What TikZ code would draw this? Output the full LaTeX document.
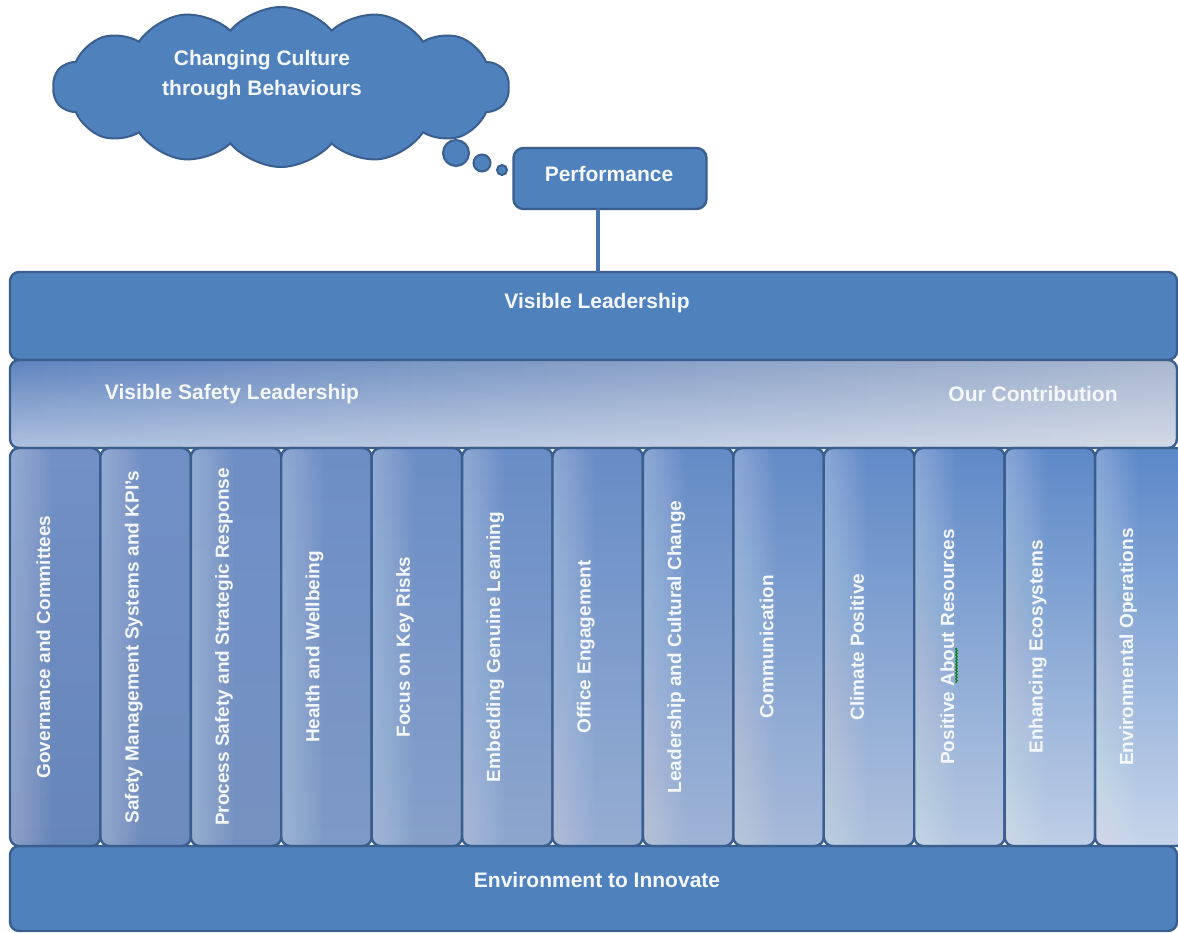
\documentclass[tikz,border=0pt]{standalone}
\usepackage{fontspec}
\setmainfont{Liberation Sans}
\usetikzlibrary{shapes.symbols,fadings,decorations.pathmorphing}
\definecolor{barblue}{HTML}{4F81BD}
\definecolor{edgeblue}{HTML}{3A5F8F}
\definecolor{linkblue}{HTML}{4673AE}
\definecolor{labelwhite}{HTML}{F4F7FC}
\definecolor{vslleft}{HTML}{5F84BF}
\definecolor{vslright}{HTML}{A9B7CF}
\definecolor{coltopL}{HTML}{7290C4}
\definecolor{coltopR}{HTML}{5B88C8}
\definecolor{colbotL}{HTML}{6685B9}
\definecolor{colbotR}{HTML}{C6D5EA}
\tikzset{
  panel/.style={draw=edgeblue, line width=2.4pt, rounded corners=9pt,
    inner sep=0pt, outer sep=0pt},
  bar/.style={panel, fill=barblue, minimum width=1167pt},
  headtext/.style={text=labelwhite, inner sep=0pt,
    font=\fontsize{21}{30}\selectfont\bfseries},
  coltext/.style={text=labelwhite, inner sep=0pt, rotate=90,
    font=\fontsize{19}{22}\selectfont\bfseries},
  bubble/.style={circle, fill=barblue, draw=edgeblue, line width=2pt,
    inner sep=0pt},
  % soft light band along the left edge of a pillar (nested washes)
  edgeglow/.style={path picture={
    \foreach \k in {1,...,14}{
      \fill[white, fill opacity=0.022]
        (path picture bounding box.north west) rectangle
        ([xshift=\k*3pt]path picture bounding box.south west);
    }}},
}
\begin{document}
\begin{tikzpicture}[x=1pt,y=-1pt]
\useasboundingbox[fill=white] (0,0) rectangle (1178,932);

% thought cloud with its trailing bubbles
\node[cloud, cloud puffs=14, cloud puff arc=100, cloud ignores aspect,
  minimum width=456pt, minimum height=160pt, fill=barblue, draw=edgeblue,
  line width=2pt] (cloud) at (281,87) {};
\node[headtext, align=center] (cloudtext) at (262,75)
  {Changing Culture\\through Behaviours};
\node[bubble, minimum size=26pt] (b1) at (456,153) {};
\node[bubble, minimum size=17pt] (b2) at (482,163) {};
\node[bubble, minimum size=10pt] (b3) at (502,170) {};

% performance box
\node[panel, fill=barblue, rounded corners=10pt, minimum width=193pt,
  minimum height=61pt] (perf) at (610,178.5) {};
\node[headtext] (perftext) at (609,174) {Performance};

% horizontal bars
\node[bar, minimum height=88pt] (vl) at (593.5,316) {};
\node[headtext] (vltext) at (597,303) {Visible Leadership};

\node[panel, minimum width=1167pt, minimum height=88pt,
  left color=vslleft, right color=vslright,
  path picture={\fill[white, path fading=north, fill opacity=0.5]
    (path picture bounding box.north west) rectangle
    (path picture bounding box.south east);}] (vsl) at (593.5,404) {};
\node[headtext] (vsltext) at (232,394) {Visible Safety Leadership};
\node[headtext] (contrib) at (1033,394) {Our Contribution};

\node[bar, minimum height=85pt] (ei) at (593.5,888.5) {};
\node[headtext] (eitext) at (597,880) {Environment to Innovate};

% connector from the performance box down to the leadership bar
\coordinate (tap) at (598,0);
\draw[linkblue, line width=4.5pt] (perf.south -| tap) -- (vl.north -| tap);

% the thirteen pillars
\foreach \i/\txt in {
  0/{Governance and Committees},
  1/{Safety Management Systems and KPI's},
  2/{Process Safety and Strategic Response},
  3/{Health and Wellbeing},
  4/{Focus on Key Risks},
  5/{Embedding Genuine Learning},
  6/{Office Engagement},
  7/{Leadership and Cultural Change},
  8/{Communication},
  9/{Climate Positive},
  10/{Positive About Resources},
  11/{Enhancing Ecosystems},
  12/{Environmental Operations}} {
  \pgfmathsetmacro\xc{10+90.42*\i+45.21}
  \pgfmathtruncatemacro\p{\i*100/12}
  \node[panel, minimum width=90.42pt, minimum height=398pt,
    top color=coltopR!\p!coltopL, bottom color=colbotR!\p!colbotL,
    edgeglow] (col\i) at (\xc,647) {};
  \node[coltext] (lab\i) at (\xc-12,647) {\txt};
}

% spell-check squiggle under "About"
\draw[green!50!black, line width=1pt, decorate,
  decoration={snake, amplitude=0.8pt, segment length=3pt}]
  ([xshift=9pt,yshift=-36pt]lab10.center) -- ([xshift=9pt,yshift=-1pt]lab10.center);
\end{tikzpicture}
\end{document}
